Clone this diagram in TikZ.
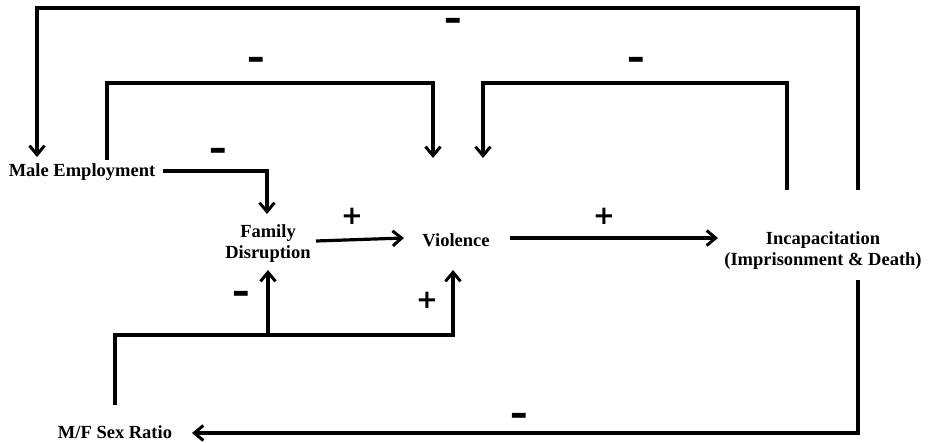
\documentclass[tikz,border=0pt]{standalone}
\usepackage{fontspec}
\setmainfont{Liberation Serif}
\newfontfamily\signfont{DejaVu Sans}
\usetikzlibrary{arrows.meta}
\tikzset{
  lbl/.style={font=\fontsize{18.5}{21}\selectfont\bfseries, inner sep=0pt, align=center},
  wire/.style={line width=3.2pt, line join=miter},
  arr/.style={wire, -{Straight Barb[length=9pt,width=15pt,line width=3pt]}},
  sgn/.style={font=\signfont\fontsize{26}{26}\selectfont\bfseries, inner sep=0pt},
}
\newcommand{\mysign}[1]{\scalebox{1.35}[1.5]{#1}}
\begin{document}
\begin{tikzpicture}[x=1pt,y=-1pt]
\useasboundingbox (0,0) rectangle (929,442);
% nodes
\node[lbl] (me) at (82,172) {Male Employment};
\node[lbl] (fd) at (268,244) {Family\\Disruption};
\node[lbl] (v) at (456,240) {Violence};
\node[lbl] (inc) at (823,251) {Incapacitation\\(Imprisonment \& Death)};
\node[lbl, anchor=base] (mf) at (115,438.5) {M/F Sex Ratio};
% coordinates
\coordinate (incTL) at (787,190);
\coordinate (incTR) at (858,190);
\coordinate (incB) at (858,280);
\coordinate (meT) at (107,160);
\coordinate (meTarget) at (37,157);
\coordinate (meR) at (163,171);
\coordinate (vTL) at (433,158);
\coordinate (vTR) at (483,158);
\coordinate (vB) at (453,270);
\coordinate (fdT) at (267,214);
\coordinate (fdB) at (268,270);
\coordinate (fdR) at (316,241);
\coordinate (vL) at (404,238);
\coordinate (vR) at (510,238);
\coordinate (incL) at (718,238);
\coordinate (mfT) at (115,405);
\coordinate (mfR) at (192,433);
\coordinate (junc) at (268,335);
% connectors
\draw[arr] (incTR) |- (37,8) -- (meTarget);
\draw[arr] (meT) |- (433,83) -- (vTL);
\draw[arr] (incTL) |- (483,83) -- (vTR);
\draw[arr] (meR) -| (fdT);
\draw[arr] (fdR) -- (vL);
\draw[arr] (vR) -- (incL);
\draw[arr] (incB) |- (mfR);
\draw[arr] (mfT) |- (453,335) -- (vB);
\draw[arr] (junc) -- (fdB);
% signs
\node[sgn] (s1) at (453,25) {\mysign{–}};
\node[sgn] (s2) at (256,64) {\mysign{–}};
\node[sgn] (s3) at (636,64) {\mysign{–}};
\node[sgn] (s4) at (218,155) {\mysign{–}};
\node[sgn] (s5) at (352,216) {+};
\node[sgn] (s6) at (604,216) {+};
\node[sgn] (s7) at (241,298) {\mysign{–}};
\node[sgn] (s8) at (427,300) {+};
\node[sgn] (s9) at (519,420) {\mysign{–}};
\end{tikzpicture}
\end{document}
